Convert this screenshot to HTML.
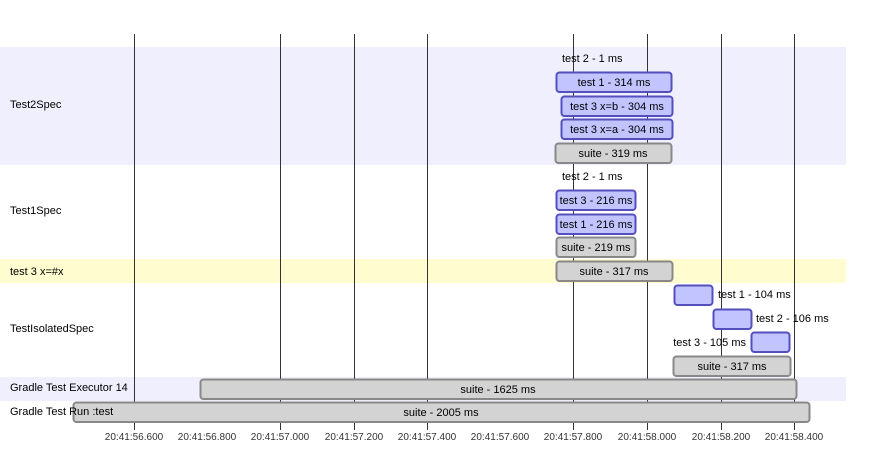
<!DOCTYPE html>
<html><head><meta charset="utf-8"><style>
html,body{margin:0;padding:0;background:#fff;}
svg{display:block;font-family:"Liberation Sans","DejaVu Sans",sans-serif;font-size:11px;}
.b{fill:#c1c4ff;stroke:#534fbc;stroke-width:2;}
.g{fill:#d3d3d3;stroke:#888;stroke-width:2;}
.gl{stroke:#333;stroke-width:1;}
.t{fill:#000;}
.c{text-anchor:middle;}
.ax{fill:#333;text-anchor:middle;font-size:10px;}
</style></head><body>
<svg width="883" height="475" viewBox="0 0 883 475">
<rect x="0" y="47" width="846" height="118" fill="#efeffe"/>
<rect x="0" y="259" width="846" height="24" fill="#fffdd0"/>
<rect x="0" y="377" width="846" height="24" fill="#efeffe"/>
<g class="gl">
<line x1="134.5" y1="34" x2="134.5" y2="430"/>
<line x1="280.5" y1="34" x2="280.5" y2="430"/>
<line x1="354.5" y1="34" x2="354.5" y2="430"/>
<line x1="427.5" y1="34" x2="427.5" y2="430"/>
<line x1="573.5" y1="34" x2="573.5" y2="430"/>
<line x1="647.5" y1="34" x2="647.5" y2="430"/>
<line x1="721.5" y1="34" x2="721.5" y2="430"/>
<line x1="794.5" y1="34" x2="794.5" y2="430"/>
</g>
<g class="ax">
<text x="134" y="440">20:41:56.600</text>
<text x="207" y="440">20:41:56.800</text>
<text x="280" y="440">20:41:57.000</text>
<text x="354" y="440">20:41:57.200</text>
<text x="427" y="440">20:41:57.400</text>
<text x="500" y="440">20:41:57.600</text>
<text x="573" y="440">20:41:57.800</text>
<text x="647" y="440">20:41:58.000</text>
<text x="721" y="440">20:41:58.200</text>
<text x="794" y="440">20:41:58.400</text>
</g>
<rect class="b" x="556.5" y="72.5" width="115" height="19.5" rx="3"/>
<rect class="b" x="561.5" y="96.5" width="111" height="19.5" rx="3"/>
<rect class="b" x="561.5" y="119.5" width="111" height="19.5" rx="3"/>
<rect class="g" x="555.5" y="143.5" width="116" height="19.5" rx="3"/>
<rect class="b" x="556.5" y="190.5" width="79" height="19.5" rx="3"/>
<rect class="b" x="556.5" y="214.5" width="79" height="19.5" rx="3"/>
<rect class="g" x="556.5" y="237.5" width="79" height="19.5" rx="3"/>
<rect class="g" x="556.5" y="261.5" width="116" height="19.5" rx="3"/>
<rect class="b" x="674.5" y="285.5" width="38" height="19.5" rx="3"/>
<rect class="b" x="713.5" y="309.5" width="38" height="19.5" rx="3"/>
<rect class="b" x="751.5" y="332.5" width="38" height="19.5" rx="3"/>
<rect class="g" x="673.5" y="356.5" width="117" height="19.5" rx="3"/>
<rect class="g" x="200.5" y="379.5" width="596" height="19.5" rx="3"/>
<rect class="g" x="73.5" y="402.5" width="736" height="19.5" rx="3"/>
<g class="t">
<text x="10" y="108">Test2Spec</text>
<text x="10" y="214">Test1Spec</text>
<text x="10" y="275">test 3 x=#x</text>
<text x="10" y="332">TestIsolatedSpec</text>
<text x="10" y="391">Gradle Test Executor 14</text>
<text x="10" y="415">Gradle Test Run :test</text>
<text x="562" y="62">test 2 - 1 ms</text>
<text class="c" x="614" y="86">test 1 - 314 ms</text>
<text class="c" x="617" y="110">test 3 x=b - 304 ms</text>
<text class="c" x="617" y="133">test 3 x=a - 304 ms</text>
<text class="c" x="613" y="157">suite - 319 ms</text>
<text x="562" y="180">test 2 - 1 ms</text>
<text class="c" x="596" y="204">test 3 - 216 ms</text>
<text class="c" x="596" y="228">test 1 - 216 ms</text>
<text class="c" x="596" y="251">suite - 219 ms</text>
<text class="c" x="614" y="275">suite - 317 ms</text>
<text x="718" y="298">test 1 - 104 ms</text>
<text x="756" y="322">test 2 - 106 ms</text>
<text x="746" y="346" text-anchor="end">test 3 - 105 ms</text>
<text class="c" x="732" y="370">suite - 317 ms</text>
<text class="c" x="498" y="393">suite - 1625 ms</text>
<text class="c" x="441" y="416">suite - 2005 ms</text>
</g>
</svg>
</body></html>
